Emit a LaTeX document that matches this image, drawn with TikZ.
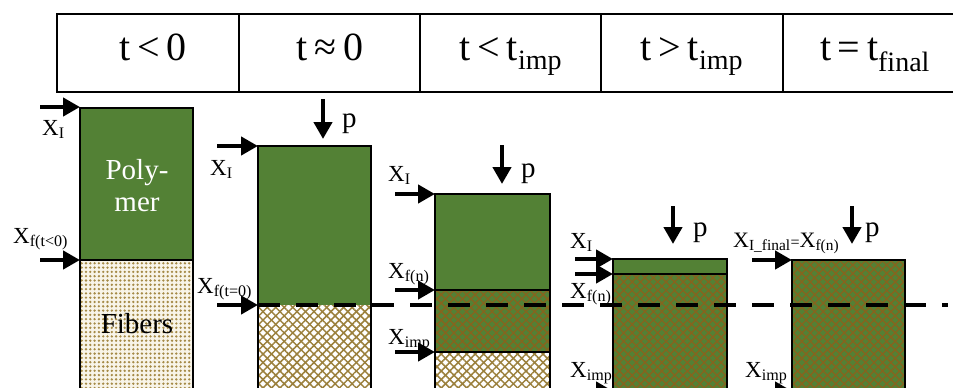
\documentclass[tikz,border=0pt]{standalone}
\usepackage{fontspec}
\setmainfont{Liberation Serif}
\usetikzlibrary{arrows.meta,patterns.meta}
\definecolor{poly}{RGB}{83,129,53}
\definecolor{fibA}{RGB}{165,138,70}
\definecolor{fibB}{RGB}{155,128,60}
\definecolor{fibC}{RGB}{135,100,30}
\definecolor{fibbg}{RGB}{248,244,232}
\tikzset{
  bx/.style={draw=black,line width=2.5pt},
  arr/.style={line width=4.5pt,-{Triangle[length=17pt,width=18pt]}},
  lbl/.style={font=\fontsize{23}{25}\selectfont, inner sep=0pt, anchor=base west},
  plbl/.style={font=\fontsize{29}{29}\selectfont, inner sep=0pt, anchor=base west},
  hdr/.style={font=\fontsize{40}{42}\selectfont, inner sep=0pt, anchor=base},
  hatchA/.style={pattern={Lines[angle=45,distance=6pt,line width=1.5pt]}, pattern color=fibB},
  hatchB/.style={pattern={Lines[angle=-45,distance=6pt,line width=1.5pt]}, pattern color=fibB},
  ghatchA/.style={pattern={Lines[angle=45,distance=6pt,line width=1.3pt]}, pattern color=fibC},
  ghatchB/.style={pattern={Lines[angle=-45,distance=6pt,line width=1.3pt]}, pattern color=fibC},
  dots/.style={pattern={Dots[distance=4.3pt,radius=1.3pt]}, pattern color=fibA},
  divline/.style={line width=4pt, dash pattern=on 22pt off 16pt}
}
\begin{document}
\begin{tikzpicture}[x=1pt,y=-1pt]
\useasboundingbox (0,0) rectangle (953,388);
% header table
\draw[line width=2pt] (57,14) rectangle (965,92);
\foreach \xx in {239,420,601,783} \draw[line width=2pt] (\xx,14) -- (\xx,92);
\node[hdr] (h1) at (153,60) {t\,<\,0};
\node[hdr] (h2) at (330,60) {t\,≈\,0};
\node[hdr] (h3) at (511,60) {t\,<\,t\textsubscript{imp}};
\node[hdr] (h4) at (692,60) {t\,>\,t\textsubscript{imp}};
\node[hdr] (h5) at (875,60) {t\,=\,t\textsubscript{final}};

% column 1
\fill[poly] (80,108) rectangle (193,260);
\fill[fibbg] (80,260) rectangle (193,400);
\fill[dots] (80,260) rectangle (193,400);
\draw[bx] (80,400) -- (80,108) -- (193,108) -- (193,400);
\draw[bx] (80,260) -- (193,260);
\node[align=center, text=white, font=\fontsize{29}{32}\selectfont, inner sep=0pt] (polytxt) at (137,186) {Poly-\\mer};
\node[font=\fontsize{29}{29}\selectfont, inner sep=0pt, anchor=base] (fibtxt) at (137,333) {Fibers};

% column 2
\fill[poly] (258,146) rectangle (371,305);
\fill[white] (258,305) rectangle (371,400);
\fill[hatchA] (258,305) rectangle (371,400);
\fill[hatchB] (258,305) rectangle (371,400);
\draw[bx] (258,400) -- (258,146) -- (371,146) -- (371,400);

% column 3
\fill[poly] (435,194) rectangle (550,352);
\fill[ghatchA] (435,290) rectangle (550,352);
\fill[ghatchB] (435,290) rectangle (550,352);
\fill[white] (435,352) rectangle (550,400);
\fill[hatchA] (435,352) rectangle (550,400);
\fill[hatchB] (435,352) rectangle (550,400);
\draw[bx] (435,400) -- (435,194) -- (550,194) -- (550,400);
\draw[bx] (435,290) -- (550,290);
\draw[bx] (435,352) -- (550,352);

% column 4
\fill[poly] (613,259) rectangle (727,400);
\fill[ghatchA] (613,274) rectangle (727,400);
\fill[ghatchB] (613,274) rectangle (727,400);
\draw[bx] (613,400) -- (613,259) -- (727,259) -- (727,400);
\draw[bx] (613,274) -- (727,274);

% column 5
\fill[poly] (792,260) rectangle (905,400);
\fill[ghatchA] (792,260) rectangle (905,400);
\fill[ghatchB] (792,260) rectangle (905,400);
\draw[bx] (792,400) -- (792,260) -- (905,260) -- (905,400);

% dashed level line
\coordinate (dl0) at (258,305);
\coordinate (dl1) at (948,305);
\draw[divline] (dl0) -- (dl1);

% arrows column 1
\coordinate (c1a) at (40,107); \coordinate (c1b) at (80,107);
\coordinate (c1c) at (40,260); \coordinate (c1d) at (80,260);
\draw[arr] (c1a) -- (c1b);
\draw[arr] (c1c) -- (c1d);
\node[lbl] (l1a) at (42,135) {X\textsubscript{I}};
\node[lbl] (l1b) at (13,243) {X\textsubscript{f(t<0)}};

% arrows column 2
\coordinate (c2a) at (217,146); \coordinate (c2b) at (258,146);
\coordinate (c2c) at (217,305); \coordinate (c2d) at (258,305);
\coordinate (c2p) at (323,99); \coordinate (c2q) at (323,139);
\draw[arr] (c2a) -- (c2b);
\draw[arr] (c2c) -- (c2d);
\draw[arr] (c2p) -- (c2q);
\node[lbl] (l2a) at (210,175) {X\textsubscript{I}};
\node[lbl] (l2b) at (197,293) {X\textsubscript{f(t=0)}};
\node[plbl] (l2p) at (342,127) {p};

% arrows column 3
\coordinate (c3a) at (395,194); \coordinate (c3b) at (435,194);
\coordinate (c3c) at (395,290); \coordinate (c3d) at (435,290);
\coordinate (c3e) at (395,352); \coordinate (c3f) at (435,352);
\coordinate (c3p) at (502,145); \coordinate (c3q) at (502,184);
\draw[arr] (c3a) -- (c3b);
\draw[arr] (c3c) -- (c3d);
\draw[arr] (c3e) -- (c3f);
\draw[arr] (c3p) -- (c3q);
\node[lbl] (l3a) at (388,181) {X\textsubscript{I}};
\node[lbl] (l3b) at (388,278) {X\textsubscript{f(n)}};
\node[lbl] (l3c) at (388,344) {X\textsubscript{imp}};
\node[plbl] (l3p) at (521,177) {p};

% arrows column 4
\coordinate (c4a) at (575,259); \coordinate (c4b) at (613,259);
\coordinate (c4c) at (575,274); \coordinate (c4d) at (613,274);
\coordinate (c4e) at (575,391); \coordinate (c4f) at (613,391);
\coordinate (c4p) at (673,206); \coordinate (c4q) at (673,244);
\draw[arr] (c4a) -- (c4b);
\draw[arr] (c4c) -- (c4d);
\draw[arr] (c4e) -- (c4f);
\draw[arr] (c4p) -- (c4q);
\node[lbl] (l4a) at (570,248) {X\textsubscript{I}};
\node[lbl] (l4b) at (570,298) {X\textsubscript{f(n)}};
\node[lbl] (l4c) at (570,377) {X\textsubscript{imp}};
\node[plbl] (l4p) at (693,236) {p};

% arrows column 5
\coordinate (c5a) at (752,260); \coordinate (c5b) at (792,260);
\coordinate (c5e) at (752,391); \coordinate (c5f) at (792,391);
\coordinate (c5p) at (852,206); \coordinate (c5q) at (852,244);
\draw[arr] (c5a) -- (c5b);
\draw[arr] (c5e) -- (c5f);
\draw[arr] (c5p) -- (c5q);
\node[lbl, font=\fontsize{22}{24}\selectfont] (l5a) at (733,247) {X\textsubscript{I\_final}{\fontsize{16}{16}\selectfont =}X\textsubscript{f(n)}};
\node[lbl] (l5c) at (745,377) {X\textsubscript{imp}};
\node[plbl] (l5p) at (865,236) {p};
\end{tikzpicture}
\end{document}
